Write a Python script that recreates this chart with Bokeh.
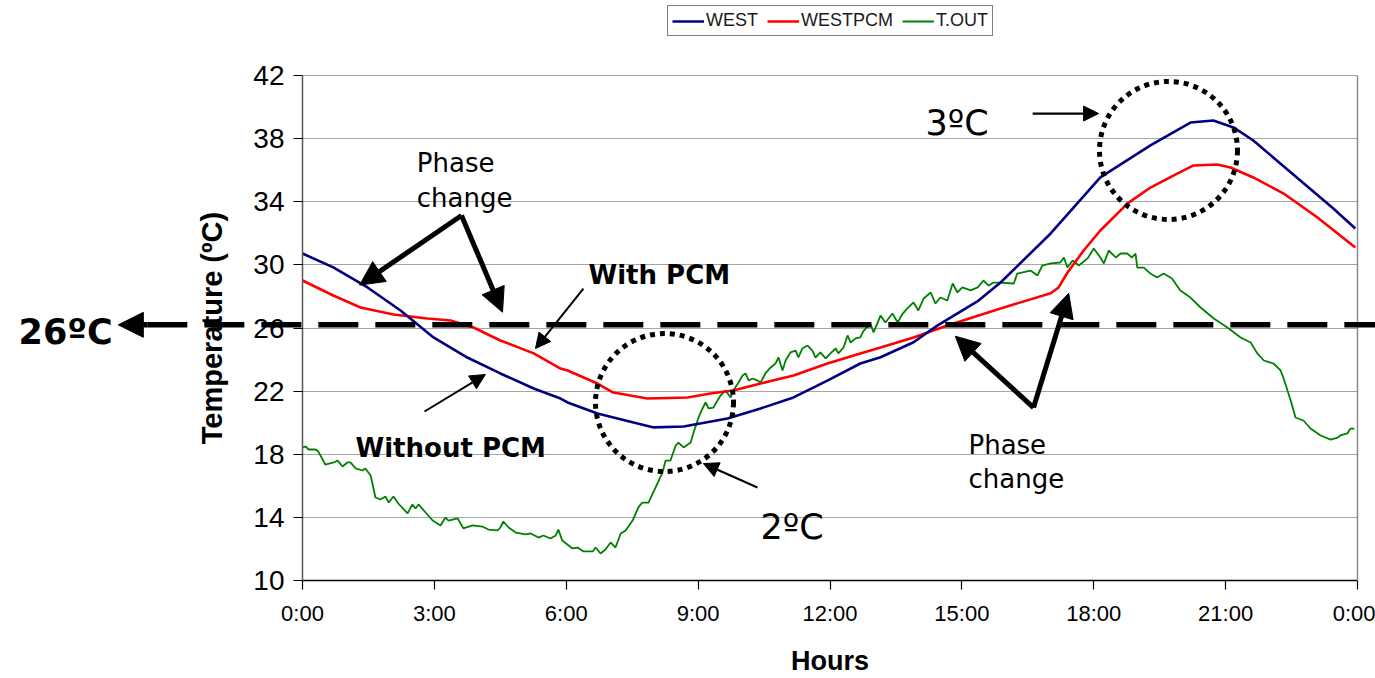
from bokeh.plotting import figure
from bokeh.models import Label, Arrow, NormalHead, FixedTicker, LinearAxis
from bokeh.embed import file_html
from bokeh.resources import INLINE

# ---------------- data (hours, °C) ----------------
west_h = [0.00, 0.70, 1.48, 2.23, 2.98, 3.75, 4.50, 5.26, 5.87, 6.03, 6.71, 7.53, 7.99, 8.67,
          9.67, 10.42, 11.17, 11.94, 12.69, 13.15, 13.90, 14.44, 15.38, 15.88, 17.02, 18.15,
          19.29, 20.20, 20.72, 21.18, 21.63, 22.70, 23.45, 23.95]
west_t = [30.72, 29.84, 28.57, 27.11, 25.40, 24.13, 23.12, 22.17, 21.53, 21.28, 20.58, 20.01, 19.70, 19.76,
          20.27, 20.90, 21.60, 22.67, 23.75, 24.15, 25.10, 26.15, 27.74, 28.88, 31.99, 35.54,
          37.57, 39.02, 39.15, 38.71, 37.88, 35.35, 33.57, 32.31]

westpcm_h = [0.00, 0.70, 1.32, 2.07, 2.84, 3.37, 3.89, 4.50, 5.26, 5.87, 6.03, 6.71, 7.07, 7.85,
             8.76, 9.28, 9.80, 10.42, 11.17, 11.94, 12.69, 13.15, 13.90, 14.67, 15.88, 17.02,
             17.20, 17.40, 17.77, 18.15, 18.77, 19.29, 19.81, 20.27, 20.81, 21.11, 21.63, 22.32,
             23.09, 23.95]
westpcm_t = [29.01, 28.06, 27.30, 26.86, 26.60, 26.48, 26.03, 25.21, 24.39, 23.43, 23.31, 22.48, 21.91, 21.53,
             21.60, 21.85, 22.04, 22.48, 22.99, 23.75, 24.39, 24.77, 25.40, 26.16, 27.24, 28.20,
             28.57, 29.50, 30.91, 32.18, 33.90, 34.90, 35.66, 36.30, 36.36, 36.17, 35.54, 34.52,
             33.00, 31.10]

tout_h = [0.00, 0.07, 0.14, 0.30, 0.36, 0.52, 0.71, 0.80, 0.91, 1.02, 1.09, 1.21, 1.36, 1.43, 1.55,
          1.66, 1.77, 1.89, 1.96, 2.07, 2.18, 2.39, 2.50, 2.57, 2.64, 2.80, 2.96, 3.14, 3.25, 3.32,
          3.53, 3.66, 3.87, 4.09, 4.23, 4.44, 4.50, 4.57, 4.69, 4.85, 5.07, 5.19, 5.37, 5.48, 5.64,
          5.76, 5.82, 5.91, 6.14, 6.26, 6.39, 6.60, 6.67, 6.78, 6.89, 7.01, 7.12, 7.24, 7.35, 7.51,
          7.64, 7.73, 7.87, 8.03, 8.19, 8.26, 8.37, 8.49, 8.55, 8.67, 8.83, 8.89, 9.01, 9.10, 9.17,
          9.24, 9.35, 9.44, 9.51, 9.62, 9.74, 9.80, 9.92, 10.01, 10.08, 10.15, 10.24, 10.35, 10.42,
          10.53, 10.65, 10.76, 10.83, 10.92, 10.99, 11.10, 11.22, 11.28, 11.37, 11.49, 11.60, 11.67,
          11.78, 11.90, 12.01, 12.13, 12.19, 12.31, 12.40, 12.47, 12.58, 12.69, 12.76, 12.92, 12.99,
          13.15, 13.26, 13.42, 13.54, 13.65, 13.76, 13.90, 14.01, 14.13, 14.29, 14.40, 14.51, 14.67,
          14.79, 14.90, 15.01, 15.20, 15.36, 15.49, 15.61, 15.72, 15.88, 16.18, 16.26, 16.56, 16.72,
          16.83, 17.02, 17.24, 17.32, 17.40, 17.52, 17.66, 17.86, 18.00, 18.15, 18.23, 18.34, 18.50,
          18.61, 18.76, 18.87, 18.95, 18.99, 19.14, 19.29, 19.44, 19.59, 19.78, 19.97, 20.20, 20.43,
          20.73, 21.04, 21.34, 21.57, 21.72, 21.87, 22.09, 22.25, 22.32, 22.48, 22.59, 22.77, 22.93,
          23.16, 23.39, 23.55, 23.61, 23.77, 23.84, 23.93]
tout_t = [18.43, 18.49, 18.30, 18.30, 18.17, 17.35, 17.48, 17.60, 17.22, 17.48, 17.48, 17.10, 16.97, 17.10, 16.65,
          15.26, 15.13, 15.32, 14.94, 15.32, 14.88, 14.25, 14.82, 14.56, 14.82, 14.31, 13.80, 13.49, 13.99, 13.80,
          13.93, 13.30, 13.49, 13.42, 13.23, 13.17, 13.36, 13.74, 13.36, 13.04, 12.92, 12.98, 12.72, 12.85, 12.66,
          12.85, 13.23, 12.53, 12.03, 12.09, 11.84, 11.84, 12.09, 11.71, 11.96, 12.41, 12.09, 12.98, 13.17, 13.80,
          14.63, 14.94, 14.94, 15.89, 16.84, 17.60, 17.60, 18.55, 18.74, 18.43, 18.74, 19.32, 20.33, 20.90, 21.28,
          20.90, 20.96, 21.41, 21.72, 22.04, 21.60, 22.04, 22.55, 22.99, 23.12, 22.67, 22.80, 22.67, 22.55,
          23.12, 23.50, 23.75, 24.13, 23.31, 23.94, 24.45, 24.57, 24.13, 24.70, 24.89, 24.57, 24.13,
          24.45, 24.07, 24.39, 24.70, 24.39, 24.77, 25.53, 25.08, 25.34, 25.40, 25.80, 26.29, 25.72,
          26.79, 26.35, 26.92, 26.35, 26.90, 27.24, 27.62, 27.11, 27.87, 28.25, 27.55, 27.93, 27.74,
          28.82, 28.25, 28.57, 28.38, 28.57, 29.01, 28.69, 28.88, 28.88, 28.82, 29.45, 29.64, 29.33,
          29.96, 30.09, 30.15, 30.47, 29.83, 30.28, 29.96, 30.41, 31.04, 30.47, 30.09, 30.91, 30.47,
          30.72, 30.72, 30.47, 30.72, 29.83, 29.83, 29.45, 29.20, 29.45, 29.14, 28.38, 27.93, 27.30,
          26.60, 26.03, 25.40, 25.08, 24.39, 23.94, 23.75, 23.31, 22.80, 21.41, 20.33, 20.14, 19.63,
          19.19, 18.93, 19.06, 19.19, 19.32, 19.63, 19.63]

hour_ticks = [0, 3, 6, 9, 12, 15, 18, 21, 24]
hour_labels = ["0:00", "3:00", "6:00", "9:00", "12:00", "15:00", "18:00", "21:00", "0:00"]
temp_ticks = [10, 14, 18, 22, 26, 30, 34, 38, 42]
hour_bounds = (0, 24)
temp_bounds = (10, 42)
comfort_temp = 26.2

# annotation circles (centre hour, centre temp)
circle_h = [8.235, 19.70]
circle_t = [21.28, 37.25]

# ---------------- figure ----------------
# The frame covers the whole canvas so that annotations around the plot
# area (legend, 26ºC arrow) are not clipped; the axes are pinned at the
# data edges with fixed_location.
W, H = 1375, 678
px_per_h = 1055 / 24.0
px_per_t = 505 / 32.0
x0 = -302 / px_per_h
y0 = 10 - 98 / px_per_t
p = figure(width=W, height=H,
           x_range=(x0, x0 + W / px_per_h), y_range=(y0, y0 + H / px_per_t),
           output_backend="svg", toolbar_location=None,
           min_border=0, min_border_left=0, min_border_right=0,
           min_border_top=0, min_border_bottom=0)
p.background_fill_color = "white"
p.border_fill_color = "white"
p.outline_line_color = None

p.xgrid.visible = False
p.ygrid.grid_line_color = "#a6a6a6"
p.ygrid.grid_line_width = 1.2
p.ygrid.ticker = FixedTicker(ticks=temp_ticks)
p.ygrid.bounds = temp_bounds
p.ygrid.cross_bounds = hour_bounds

xa = p.xaxis[0]
ya = p.yaxis[0]
xa.fixed_location = temp_bounds[0]
ya.fixed_location = hour_bounds[0]
xa.bounds = hour_bounds
ya.bounds = temp_bounds
xa.ticker = FixedTicker(ticks=hour_ticks)
xa.major_label_overrides = {t: l for t, l in zip(hour_ticks, hour_labels)}
ya.ticker = FixedTicker(ticks=temp_ticks)

for ax in (xa, ya):
    ax.axis_line_color = "black"
    ax.axis_line_width = 1.5
    ax.major_tick_line_color = "black"
    ax.major_tick_line_width = 1.2
    ax.major_tick_in = 0
    ax.major_tick_out = 9
    ax.minor_tick_line_color = None
    ax.major_label_text_color = "black"
    ax.axis_label_text_color = "black"
    ax.axis_label_text_font_style = "bold"

ya.axis_line_color = "#555555"
ya.major_label_text_font = "Liberation Sans"
ya.major_label_text_font_size = "28px"
ya.major_label_standoff = 9
ya.axis_label = "Temperature (ºC)"
ya.axis_label_text_font = "Liberation Sans"
ya.axis_label_text_font_size = "29px"
ya.axis_label_standoff = 22

xa.major_label_text_font = "Liberation Sans"
xa.major_label_text_font_size = "22px"
xa.major_label_standoff = 11
xa.axis_label = "Hours"
xa.axis_label_text_font = "Liberation Sans"
xa.axis_label_text_font_size = "27px"
xa.axis_label_standoff = 17

# right border of the plot area
right_border = LinearAxis(fixed_location=hour_bounds[1], bounds=temp_bounds,
                          ticker=FixedTicker(ticks=[]), axis_line_color="#8c8c8c",
                          axis_line_width=1.5, major_tick_line_color=None,
                          minor_tick_line_color=None)
p.add_layout(right_border, "right")

# ---------------- series ----------------
p.line(tout_h, tout_t, color="#008000", line_width=1.8, legend_label="T.OUT")
p.line(westpcm_h, westpcm_t, color="#ff0000", line_width=2.6, legend_label="WESTPCM")
p.line(west_h, west_t, color="#000080", line_width=2.6, legend_label="WEST")

lg = p.legend[0]
lg.items = [lg.items[2], lg.items[1], lg.items[0]]
lg.orientation = "horizontal"
lg.location = (667, 642)
lg.border_line_color = "black"
lg.border_line_width = 1
lg.background_fill_color = "white"
lg.background_fill_alpha = 1
lg.padding = 4
lg.margin = 0
lg.spacing = 9
lg.glyph_width = 32
lg.glyph_height = 16
lg.label_height = 16
lg.label_standoff = 2
lg.label_text_font = "Liberation Sans"
lg.label_text_font_size = "18px"
lg.label_text_color = "#1a1a1a"

# ---------------- annotations ----------------
p.circle(x=circle_h, y=circle_t, radius=69, radius_units="screen",
         fill_color=None, line_color="black", line_width=5, line_dash="5 5")

# dashed 26 °C line with arrow head on the left
p.add_layout(Arrow(x_start=-3.53, y_start=comfort_temp, x_end=x0 + W / px_per_h + 1, y_end=comfort_temp,
                   start=None, end=None, line_color="black", line_width=5.5, line_dash="40 17"))
p.add_layout(Arrow(x_start=-3.53, y_start=comfort_temp, x_end=-4.19, y_end=comfort_temp,
                   line_color="black", line_width=5.5,
                   end=NormalHead(size=25, fill_color="black", line_color="black", line_width=1)))


def arrow(xs, ys, xe, ye, width, head):
    p.add_layout(Arrow(x_start=xs, y_start=ys, x_end=xe, y_end=ye,
                       line_color="black", line_width=width,
                       end=NormalHead(size=head, fill_color="black", line_color="black", line_width=1)))


# phase change (left)
arrow(3.617, 33.13, 1.30, 28.72, 5, 24)
arrow(3.617, 33.13, 4.55, 27.00, 5, 24)
# phase change (right)
arrow(16.63, 20.96, 14.85, 25.48, 5, 24)
arrow(16.63, 20.96, 17.43, 28.20, 5, 24)
# thin arrows
arrow(6.39, 28.50, 5.30, 24.70, 2, 15)
arrow(2.775, 20.71, 4.16, 23.05, 2, 15)
arrow(16.61, 39.59, 18.11, 39.59, 2.2, 15)
arrow(10.35, 15.89, 9.12, 17.41, 2.2, 15)


def label(x, y, text, size, bold=False):
    p.add_layout(Label(x=x, y=y, text=text, text_font="DejaVu Sans",
                       text_font_size=size, text_font_style="bold" if bold else "normal",
                       text_color="black", text_align="left", text_baseline="alphabetic"))


label(2.60, 36.43, "Phase", "26px")
label(2.60, 34.21, "change", "26px")
label(15.15, 18.56, "Phase", "26px")
label(15.15, 16.46, "change", "26px")
label(6.506, 29.33, "With PCM", "26px", True)
label(1.206, 18.37, "Without PCM", "26px", True)
label(14.17, 38.96, "3ºC", "35px")
label(10.42, 13.36, "2ºC", "35px")
label(-6.46, 25.72, "26ºC", "35px", True)

open("out.html", "w").write(file_html(p, INLINE))
